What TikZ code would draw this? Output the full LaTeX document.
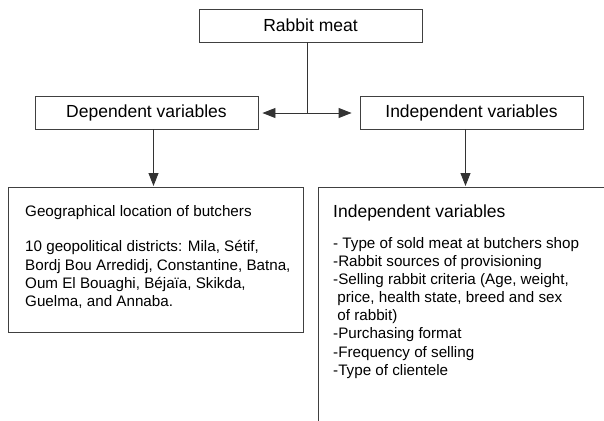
\documentclass[tikz,border=0pt]{standalone}
\usepackage{fontspec}
\setmainfont{Liberation Sans}
\usetikzlibrary{arrows.meta}

\tikzset{
  varbox/.style={draw=black!75, line width=0.9pt, minimum width=223pt, minimum height=33pt,
    inner sep=0pt, font=\fontsize{17.5}{20}\selectfont},
  bigbox/.style={draw=black!75, line width=0.9pt, inner sep=0pt, anchor=north west},
  listtext/.style={anchor=north west, inner sep=0pt, align=left,
    font=\fontsize{15.2}{18.1}\selectfont},
  plain/.style={line width=0.9pt, black!80},
  link/.style={plain, -{Triangle[length=13pt,width=10pt]}},
}

\begin{document}
\begin{tikzpicture}[x=1pt,y=-1pt]
  \useasboundingbox (0,0) rectangle (604,420);
  \clip (0,0) rectangle (604,420);

  % top box
  \node[varbox] (meat) at (310.5,25.5) {Rabbit meat};

  % the two kinds of variables
  \node[varbox] (dep) at (146.5,112.5) {Dependent variables};
  \node[varbox] (indep) at (471.5,112.5) {Independent variables};

  % split under the top box
  \coordinate (split) at (307.5,113);
  \draw[plain] (split |- meat.south) -- (split);
  \draw[link, shorten >=4pt] (split) -- (split -| dep.east);
  \draw[link, shorten >=8pt] (split) -- (split -| indep.west);

  % lower boxes (the right one runs off the page)
  \node[bigbox, minimum width=295pt, minimum height=145pt] (geo) at (8,187) {};
  \node[bigbox, minimum width=320pt, minimum height=260pt] (crit) at (318,187) {};

  % arrows down
  \draw[link, shorten >=1pt] ([xshift=7pt]dep.south) -- ([xshift=7pt]dep.south |- geo.north);
  \draw[link, shorten >=1pt] ([xshift=-6pt]indep.south) -- ([xshift=-6pt]indep.south |- crit.north);

  % texts in the lower boxes
  \node[listtext] (geotext) at (25,205.6) {Geographical location of butchers\\[17pt]
    10 geopolitical districts: Mila, Sétif,\\
    Bordj Bou Arredidj, Constantine, Batna,\\
    Oum El Bouaghi, Béjaïa, Skikda,\\
    Guelma, and Annaba.};
  \node[listtext] (crittext) at (333,204.5) {{\fontsize{17.5}{20}\selectfont Independent variables}\\[13pt]
    - Type of sold meat at butchers shop\\
    -Rabbit sources of provisioning\\
    -Selling rabbit criteria (Age, weight,\\
    \ price, health state, breed and sex\\
    \ of rabbit)\\
    -Purchasing format\\
    -Frequency of selling\\
    -Type of clientele};
\end{tikzpicture}
\end{document}
